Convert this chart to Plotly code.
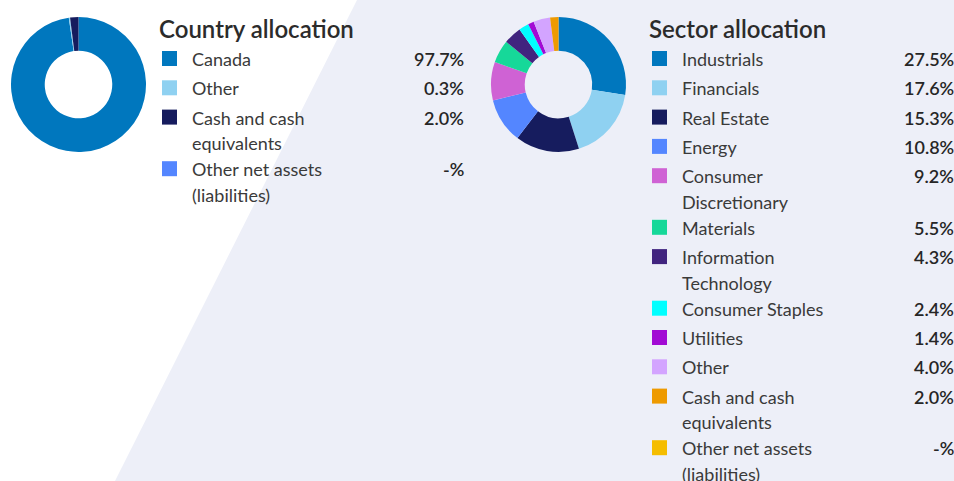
import textwrap
import plotly.graph_objects as go

# ---- data -----------------------------------------------------------------
country_labels = ["Canada", "Other", "Cash and cash equivalents",
                  "Other net assets (liabilities)"]
country_values = [97.7, 0.3, 2.0, 0.0]
country_text = ["97.7%", "0.3%", "2.0%", "-%"]
country_colors = ["#0077BE", "#8FD1F1", "#161C5E", "#5486FF"]

sector_labels = ["Industrials", "Financials", "Real Estate", "Energy",
                 "Consumer Discretionary", "Materials", "Information Technology",
                 "Consumer Staples", "Utilities", "Other",
                 "Cash and cash equivalents", "Other net assets (liabilities)"]
sector_values = [27.5, 17.6, 15.3, 10.8, 9.2, 5.5, 4.3, 2.4, 1.4, 4.0, 2.0, 0.0]
sector_text = ["27.5%", "17.6%", "15.3%", "10.8%", "9.2%", "5.5%", "4.3%",
               "2.4%", "1.4%", "4.0%", "2.0%", "-%"]
sector_colors = ["#0077BE", "#8FD1F1", "#161C5E", "#5486FF", "#CF62D4",
                 "#16D899", "#41247F", "#00FFFF", "#A20BD4", "#D3A4FF",
                 "#EE9A00", "#F5BD00"]

W, H = 954, 481
FONT = "Lato"
BG = "#EDEFF8"


def px(x):
    return x / W


def py(y):
    return 1 - y / H


fig = go.Figure()

# diagonal tinted panel behind the right-hand block
fig.add_shape(type="path", xref="paper", yref="paper", layer="below",
              path=(f"M {px(357)},{py(0)} L {px(954)},{py(0)} "
                    f"L {px(954)},{py(481)} L {px(115)},{py(481)} Z"),
              fillcolor=BG, line=dict(width=0))


def donut(values, labels, colors, cx, cy, r):
    fig.add_trace(go.Pie(
        values=values, labels=labels, hole=0.5, sort=False,
        direction="clockwise", rotation=0, textinfo="none",
        marker=dict(colors=colors, line=dict(width=0)),
        showlegend=False,
        domain=dict(x=[px(cx - r), px(cx + r)], y=[py(cy + r), py(cy - r)]),
    ))


def legend_block(title, labels, texts, colors, x0, x_right):
    fig.add_annotation(text=title, x=px(x0 - 4), y=py(28), xref="paper",
                       yref="paper", xanchor="left", yanchor="middle",
                       showarrow=False,
                       font=dict(family=FONT, size=24, color="#2B2B2B",
                                 weight=600))
    y = 59
    for lab, txt, col in zip(labels, texts, colors):
        fig.add_shape(type="rect", xref="paper", yref="paper",
                      x0=px(x0 + 1), x1=px(x0 + 16), y0=py(y - 8), y1=py(y + 7),
                      fillcolor=col, line=dict(width=0))
        lines = textwrap.wrap(lab, 16)
        for i, ln in enumerate(lines):
            fig.add_annotation(text=ln, x=px(x0 + 29), y=py(y + 25.7 * i),
                               xref="paper", yref="paper", xanchor="left",
                               yanchor="middle", showarrow=False,
                               font=dict(family=FONT, size=18, color="#3A3A3A"))
        fig.add_annotation(text=txt, x=px(x_right + 3), y=py(y), xref="paper",
                           yref="paper", xanchor="right", yanchor="middle",
                           showarrow=False,
                           font=dict(family=FONT, size=18, color="#262626",
                                     weight=600))
        y += 29.3 + 22.3 * (len(lines) - 1)


donut(country_values, country_labels, country_colors, 78.5, 84.5, 67.5)
donut(sector_values, sector_labels, sector_colors, 558.5, 84.5, 67.5)

legend_block("Country allocation", country_labels, country_text,
             country_colors, 161, 463)
legend_block("Sector allocation", sector_labels, sector_text,
             sector_colors, 651, 953)

fig.update_layout(width=W, height=H, margin=dict(l=0, r=0, t=0, b=0),
                  paper_bgcolor="white", plot_bgcolor="white")

fig.write_html("out.html")
